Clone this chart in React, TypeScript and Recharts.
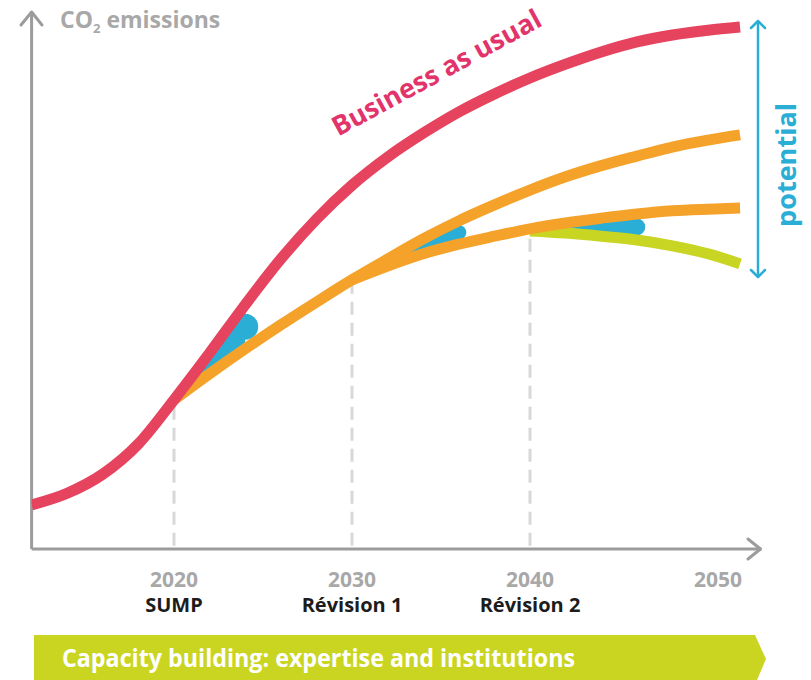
import React from 'react';
import { ComposedChart, Line, Area, XAxis, YAxis, ReferenceLine } from 'recharts';

// ---- data (arbitrary emission index, 0 = x axis, 100 = top of plot) ----
const years = [2012, 2014, 2016, 2018, 2020, 2022, 2024, 2026, 2028, 2030, 2032, 2034, 2036, 2038, 2040, 2042, 2044, 2046, 2048, 2050, 2051.8];
const businessAsUsual = [8.3, 10.5, 14.1, 19.8, 28.1, 36.9, 46.0, 54.6, 62.1, 68.5, 73.8, 78.3, 82.3, 85.7, 88.7, 91.3, 93.6, 95.5, 96.8, 97.7, 98.3];
const sumpPath = [null, null, null, null, 28.1, 33.0, 37.7, 42.2, 46.5, 50.7, 54.6, 58.4, 61.8, 64.8, 67.6, 70.1, 72.2, 74.0, 75.7, 77.0, 78.0];
const revision1Path = [null, null, null, null, null, null, null, null, null, 50.7, 53.3, 55.6, 57.4, 58.9, 60.3, 61.4, 62.3, 63.1, 63.7, 64.0, 64.2];
const revision2Path = [null, null, null, null, null, null, null, null, null, null, null, null, null, null, 59.9, 59.5, 58.9, 58.2, 57.1, 55.6, 53.7];

const tickYears = [2020, 2030, 2040, 2050];
const milestoneLabels = ['SUMP', 'Révision 1', 'Révision 2', ''];

// gains (blue wedges): [start year, end year]
const gain1Span = [2020, 2024];
const gain2Span = [2030, 2036];
const gain3Span = [2040, 2046];

const RED = '#e6435f';
const RED_TEXT = '#e2346a';
const ORANGE = '#f5a22b';
const GREEN = '#c8d523';
const CYAN = '#2aaed6';
const AXIS = '#9c9c9c';
const LABEL_GREY = '#a8a8a8';
const DASH = '#d8d8d8';
const FONT = '"Open Sans", "Noto Sans", sans-serif';

const inSpan = (y: number, s: number[]) => y >= s[0] && y <= s[1];
const midOf = (a: number | null, b: number | null) => ((a as number) + (b as number)) / 2;

const rows = years.map((year, i) => ({
  year,
  bau: businessAsUsual[i],
  sump: sumpPath[i],
  rev1: revision1Path[i],
  rev2: revision2Path[i],
  g1: inSpan(year, gain1Span) ? [sumpPath[i], businessAsUsual[i]] : null,
  g2: inSpan(year, gain2Span) ? [revision1Path[i], sumpPath[i]] : null,
  g3: inSpan(year, gain3Span) ? [revision2Path[i], revision1Path[i]] : null,
  t1: year === gain1Span[1] ? midOf(sumpPath[i], businessAsUsual[i]) : null,
  t2: year === gain2Span[1] ? midOf(revision1Path[i], sumpPath[i]) : null,
  t3: year === gain3Span[1] ? midOf(revision2Path[i], revision1Path[i]) : null,
}));

const valAt = (arr: (number | null)[], yr: number) => arr[years.indexOf(yr)] as number;

const YearTick = (props: any) => {
  const { x, y, payload } = props;
  const i = tickYears.indexOf(payload.value);
  const dx = i === tickYears.length - 1 ? 10 : 0;
  return (
    <g transform={`translate(${x + dx},${y})`}>
      <text y={37.5} textAnchor="middle" fill={LABEL_GREY} fontSize={21} fontWeight={700} fontFamily={FONT}>
        {payload.value}
      </text>
      <text y={62.5} textAnchor="middle" fill="#1c1c1c" fontSize={20} fontWeight={700} fontFamily={FONT}>
        {milestoneLabels[i]}
      </text>
    </g>
  );
};

const lineProps = {
  type: 'monotone' as const,
  dot: false,
  activeDot: false,
  isAnimationActive: false,
  strokeWidth: 11,
  zIndex: 2500,
};
const tipProps = (r: number) => ({
  type: 'monotone' as const,
  stroke: 'none',
  dot: { r, fill: CYAN, stroke: 'none', strokeWidth: 0 },
  activeDot: false,
  isAnimationActive: false,
  zIndex: 150,
});

export default function App() {
  return (
    <div style={{ position: 'absolute', left: 0, top: 0, width: 811, height: 680, background: '#fff' }}>
      <ComposedChart
        width={811}
        height={680}
        data={rows}
        margin={{ top: 18, right: 49.6, bottom: 71, left: 31.6 }}
      >
        <XAxis
          dataKey="year"
          type="number"
          domain={[2012, 2053]}
          ticks={tickYears}
          allowDataOverflow
          height={60}
          tickSize={0}
          tickMargin={0}
          tickLine={false}
          axisLine={{ stroke: AXIS, strokeWidth: 3 }}
          tick={<YearTick />}
        />
        <YAxis type="number" domain={[0, 100]} hide />
        <ReferenceLine x={2012} stroke={AXIS} strokeWidth={3} />
        <ReferenceLine segment={[{ x: 2020, y: 0.6 }, { x: 2020, y: valAt(sumpPath, 2020) }]} stroke={DASH} strokeWidth={3} strokeDasharray="13 8" />
        <ReferenceLine segment={[{ x: 2030, y: 0.6 }, { x: 2030, y: valAt(sumpPath, 2030) }]} stroke={DASH} strokeWidth={3} strokeDasharray="13 8" />
        <ReferenceLine segment={[{ x: 2040, y: 0.6 }, { x: 2040, y: valAt(revision1Path, 2040) }]} stroke={DASH} strokeWidth={3} strokeDasharray="13 8" />

        <Area dataKey="g1" type="monotone" fill={CYAN} fillOpacity={1} stroke="none" isAnimationActive={false} />
        <Area dataKey="g2" type="monotone" fill={CYAN} fillOpacity={1} stroke="none" isAnimationActive={false} />
        <Area dataKey="g3" type="monotone" fill={CYAN} fillOpacity={1} stroke="none" isAnimationActive={false} />
        <Line dataKey="t1" {...tipProps(13)} />
        <Line dataKey="t2" {...tipProps(7.5)} />
        <Line dataKey="t3" {...tipProps(8.5)} />

        <Line dataKey="rev2" stroke={GREEN} {...lineProps} />
        <Line dataKey="sump" stroke={ORANGE} {...lineProps} />
        <Line dataKey="rev1" stroke={ORANGE} {...lineProps} />
        <Line dataKey="bau" stroke={RED} {...lineProps} />
      </ComposedChart>

      <svg width={811} height={680} style={{ position: 'absolute', left: 0, top: 0, pointerEvents: 'none' }}>
        {/* axis arrowheads */}
        <line x1={31.6} y1={12} x2={31.6} y2={20} stroke={AXIS} strokeWidth={3} />
        <polyline points="21,25 31.6,12 42,25" fill="none" stroke={AXIS} strokeWidth={3} strokeLinejoin="round" strokeLinecap="round" />
        <polyline points="748,539 760.5,549 748,559" fill="none" stroke={AXIS} strokeWidth={3} strokeLinejoin="round" strokeLinecap="round" />

        {/* y axis title */}
        <text x={60} y={28} fill={LABEL_GREY} fontSize={23} fontWeight={700} fontFamily={FONT}>
          CO<tspan fontSize={13} dy={5}>2</tspan>
          <tspan dy={-5}> emissions</tspan>
        </text>

        {/* series label */}
        <text
          transform="translate(441,81) rotate(-28.5)"
          textAnchor="middle"
          fill={RED_TEXT}
          fontSize={27}
          fontWeight={700}
          fontFamily={FONT}
          textLength={234}
          lengthAdjust="spacingAndGlyphs"
        >
          Business as usual
        </text>

        {/* potential arrow */}
        <line x1={758} y1={21} x2={758} y2={277} stroke={CYAN} strokeWidth={2.5} />
        <polyline points="751,28 758,21 765,28" fill="none" stroke={CYAN} strokeWidth={2.5} strokeLinejoin="round" strokeLinecap="round" />
        <polyline points="751,270 758,277 765,270" fill="none" stroke={CYAN} strokeWidth={2.5} strokeLinejoin="round" strokeLinecap="round" />
        <text
          transform="translate(796,165) rotate(-90)"
          textAnchor="middle"
          fill={CYAN}
          fontSize={26}
          fontWeight={700}
          fontFamily={FONT}
          textLength={124}
          lengthAdjust="spacingAndGlyphs"
        >
          potential
        </text>

        {/* capacity building banner */}
        <polygon points="34,635 755,635 766,659 757,680 34,680" fill="#c9d521" />
        <text
          x={62}
          y={667}
          fill="#ffffff"
          fontSize={25}
          fontWeight={700}
          fontFamily={FONT}
          textLength={513}
          lengthAdjust="spacingAndGlyphs"
        >
          Capacity building: expertise and institutions
        </text>
      </svg>
    </div>
  );
}
